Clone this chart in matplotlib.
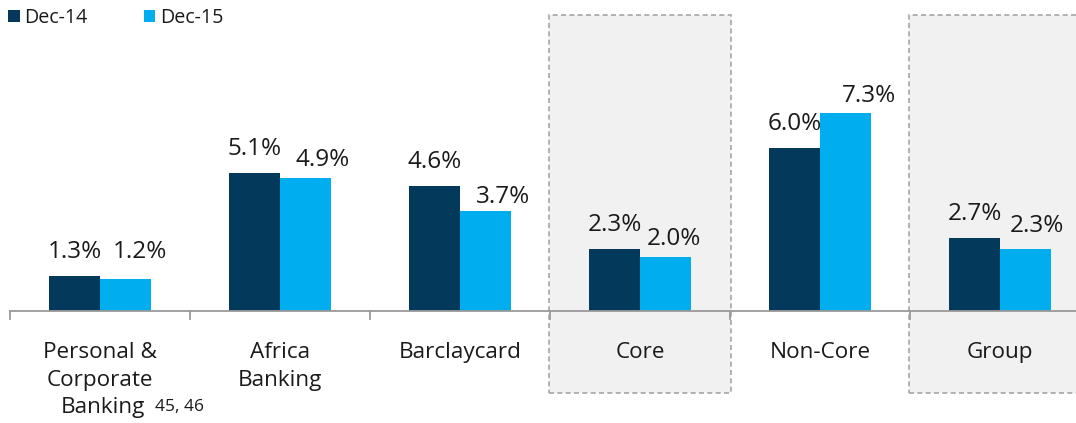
import numpy as np
import matplotlib
matplotlib.use("Agg")
import matplotlib.pyplot as plt
from matplotlib.patches import Rectangle

# data
categories = ["Personal &\nCorporate", "Africa\nBanking", "Barclaycard",
              "Core", "Non-Core", "Group"]
dec14 = [1.3, 5.1, 4.6, 2.3, 6.0, 2.7]
dec15 = [1.2, 4.9, 3.7, 2.0, 7.3, 2.3]
series_names = ["Dec-14", "Dec-15"]
highlighted = ["Core", "Group"]
footnote = "45, 46"

# label nudges (pixels) for the Dec-15 labels as in the original slide
dx15 = [14, 17, 18, 8, 23, 11]
gap15 = [21, 12, 8, 12, 11, 17]

plt.rcParams['font.family'] = ['Open Sans', 'DejaVu Sans']

c14 = '#033a5c'
c15 = '#00adef'
txt = '#1a1a1a'

fig = plt.figure(figsize=(10.76, 4.23), dpi=100)
ax = fig.add_axes([0, 0, 1, 1])
x = np.arange(len(categories))
w = 0.283
ppu = 27.1   # pixels per percent
ppx = 180.0  # pixels per category

ax.set_xlim(-0.556, 5.422)
ax.set_ylim(-4.13, 11.48)

# grey dashed boxes behind highlighted categories
for i, name in enumerate(categories):
    if name in highlighted:
        ax.add_patch(Rectangle((i - 0.506, -3.03), 1.012, 13.95, facecolor='#f1f1f1',
                               edgecolor='#a6a6a6', linestyle=(0, (3, 2)), linewidth=1.2,
                               zorder=0, clip_on=False))

b1 = ax.bar(x - w / 2, dec14, w, color=c14, label=series_names[0], zorder=2)
b2 = ax.bar(x + w / 2, dec15, w, color=c15, label=series_names[1], zorder=2)

for r, v in zip(b1, dec14):
    ax.text(r.get_x() + r.get_width() / 2, v + 18 / ppu, f"{v:.1f}%", ha='center',
            va='baseline', fontsize=17.5, color=txt)
for r, v, dx, g in zip(b2, dec15, dx15, gap15):
    ax.text(r.get_x() + r.get_width() / 2 + dx / ppx, v + g / ppu, f"{v:.1f}%", ha='center',
            va='baseline', fontsize=17.5, color=txt)

# axis line with boundary ticks
ax.axhline(0, xmin=(-0.5 + 0.556) / (5.422 + 0.556), color='#9a9a9a', linewidth=1.3, zorder=3)
for b in np.arange(-0.5, 6, 1.0):
    ax.plot([b, b], [0, -0.3], color='#9a9a9a', linewidth=1.3, zorder=3, clip_on=False)

for i, name in enumerate(categories):
    for k, line in enumerate(name.split('\n')):
        ax.text(i, -(47 + 28 * k) / ppu, line, ha='center', va='baseline', fontsize=16.2,
                color=txt)

# third line of first label with its footnote marker
ax.text(-39 / ppx, -102 / ppu, "Banking", ha='left', va='baseline', fontsize=16.2, color=txt)
ax.text(55 / ppx, -100 / ppu, footnote, ha='left', va='baseline', fontsize=12.5, color=txt)

ax.axis('off')

ax.legend(loc='upper left', bbox_to_anchor=(0.0, 1.0), ncol=2, frameon=False, fontsize=14.1,
          handlelength=0.6, handleheight=0.6, handletextpad=0.25, columnspacing=2.85,
          labelcolor=txt, borderaxespad=0.2, borderpad=0.2)

fig.savefig('out.png', dpi=100)
